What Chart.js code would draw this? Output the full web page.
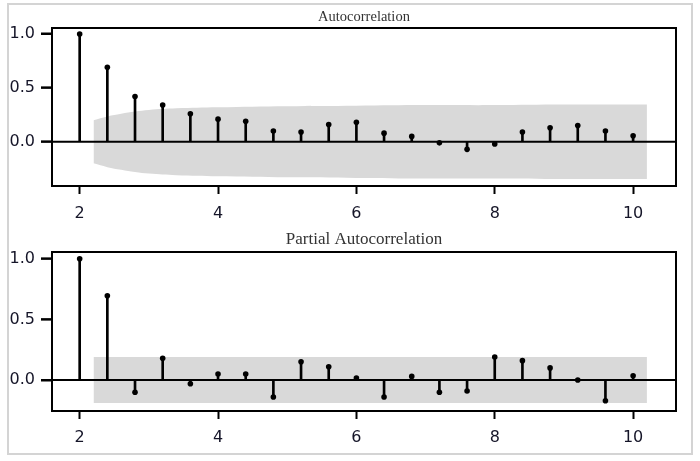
<!DOCTYPE html>
<html>
<head>
<meta charset="utf-8">
<script src="https://cdn.jsdelivr.net/npm/chart.js@4.4.1/dist/chart.umd.min.js"></script>
<style>
	body { margin: 0; background: #fff; }
	#wrap { position: relative; width: 700px; height: 461px; }
	#frame { position: absolute; left: 7px; top: 3px; width: 682px; height: 448px; border: 2px solid #d4d4d4; }
	#acf { position: absolute; left: 0; top: 0; }
	#pacf { position: absolute; left: 0; top: 225px; }
</style>
</head>
<body>
<div id="wrap">
	<div id="frame"></div>
	<canvas id="acf" width="700" height="225"></canvas>
	<canvas id="pacf" width="700" height="236"></canvas>
</div>
<script>
// lags on the x axis
var lags = [2, 2.4, 2.8, 3.2, 3.6, 4, 4.4, 4.8, 5.2, 5.6, 6, 6.4, 6.8, 7.2, 7.6, 8, 8.4, 8.8, 9.2, 9.6, 10];

// autocorrelation values
var acf_values = [1.0, 0.69, 0.42, 0.34, 0.26, 0.21, 0.19, 0.10, 0.09, 0.16, 0.18, 0.08, 0.05, -0.01, -0.07, -0.02, 0.09, 0.13, 0.15, 0.10, 0.055];

// partial autocorrelation values
var pacf_values = [1.0, 0.695, -0.10, 0.18, -0.03, 0.05, 0.05, -0.14, 0.15, 0.11, 0.016, -0.14, 0.03, -0.10, -0.09, 0.19, 0.16, 0.10, 0.0, -0.17, 0.036];

// confidence bands
var acf_band_x = [2.2, 2.4, 2.6, 2.8, 3.0, 3.4, 4.0, 5.0, 6.0, 7.0, 8.0, 9.0, 10.2];
var acf_band_hi = [0.2, 0.235, 0.26, 0.28, 0.295, 0.31, 0.32, 0.33, 0.335, 0.34, 0.34, 0.345, 0.345];
var pacf_band_x = [2.2, 10.2];
var pacf_band_hi = [0.19, 0.19];

var x_ticks = [2, 4, 6, 8, 10];
var y_ticks = [0, 0.5, 1.0];

// plugin drawing the box, the zero line and the y tick marks
var frame_plugin = {
	id: 'frame',
	afterDraw: function(chart) {
		var ctx = chart.ctx;
		var a = chart.chartArea;
		var ys = chart.scales.y;
		var y0 = ys.getPixelForValue(0);
		ctx.save();
		ctx.strokeStyle = '#000';
		ctx.lineWidth = 2;
		ctx.beginPath();
		ctx.moveTo(a.left, y0);
		ctx.lineTo(a.right, y0);
		ys.ticks.forEach(function(t) {
			var py = ys.getPixelForValue(t.value);
			ctx.moveTo(a.left - 11, py);
			ctx.lineTo(a.left, py);
		});
		ctx.stroke();
		ctx.strokeRect(a.left, a.top, a.right - a.left, a.bottom - a.top);
		ctx.restore();
	}
};

var init_chart = function(ctx, options) {
	var stems = [], band_hi = [], band_lo = [];
	for (var i=0; i<lags.length; i++) {
		stems.push({x: lags[i], y: options.values[i]});
	}
	for (var j=0; j<options.band_x.length; j++) {
		band_hi.push({x: options.band_x[j], y: options.band_hi[j]});
		band_lo.push({x: options.band_x[j], y: -options.band_hi[j]});
	}

	return new Chart(ctx, {
		type: 'bar',
		data: {
			datasets: [
				{
					type: 'scatter',
					data: stems,
					pointRadius: 2.8,
					pointBackgroundColor: '#000',
					pointBorderWidth: 0,
					order: 1
				},
				{
					type: 'bar',
					data: stems,
					backgroundColor: '#000',
					barThickness: 2,
					order: 2
				},
				{
					type: 'line',
					data: band_hi,
					borderWidth: 0,
					pointRadius: 0,
					tension: 0.4,
					backgroundColor: '#d9d9d9',
					fill: '+1',
					order: 3
				},
				{
					type: 'line',
					data: band_lo,
					borderWidth: 0,
					pointRadius: 0,
					tension: 0.4,
					backgroundColor: '#d9d9d9',
					fill: false,
					order: 3
				}
			]
		},
		options: {
			animation: false,
			responsive: false,
			layout: { padding: { left: 0, right: 24, top: 0, bottom: 0 } },
			plugins: {
				legend: { display: false },
				tooltip: { enabled: false },
				title: {
					display: true,
					fullSize: false,
					text: options.title,
					color: '#333',
					font: { family: 'Liberation Serif', size: options.title_size, weight: 'normal' },
					padding: options.title_padding
				}
			},
			scales: {
				x: {
					type: 'linear',
					min: 1.6,
					max: 10.62,
					offset: false,
					afterBuildTicks: function(scale) {
						scale.ticks = x_ticks.map(function(v) { return {value: v}; });
					},
					afterFit: function(scale) { scale.height = options.x_height; },
					border: { display: true, color: '#000', width: 2 },
					grid: { offset: false, drawOnChartArea: false, tickLength: 8, tickWidth: 2, tickColor: '#000' },
					ticks: { color: '#151528', padding: options.x_pad, font: { family: 'DejaVu Sans', size: 16 } }
				},
				y: {
					min: options.y_min,
					max: 1.055,
					afterBuildTicks: function(scale) {
						scale.ticks = y_ticks.map(function(v) { return {value: v}; });
					},
					afterFit: function(scale) { scale.width = 52; },
					border: { display: true, color: '#000', width: 2 },
					grid: { offset: false, drawOnChartArea: false, tickLength: 11, tickWidth: 2, tickColor: '#000' },
					ticks: {
						color: '#151528',
						padding: 6,
						font: { family: 'DejaVu Sans', size: 16 },
						callback: function(v) { return v.toFixed(1); }
					}
				}
			}
		},
		plugins: [frame_plugin]
	});
};

init_chart(document.getElementById('acf'), {
	values: acf_values,
	band_x: acf_band_x,
	band_hi: acf_band_hi,
	title: 'Autocorrelation',
	title_size: 14.5,
	title_padding: { top: 8.3, bottom: 2.3 },
	x_height: 39,
	x_pad: 10,
	y_min: -0.41
});

init_chart(document.getElementById('pacf'), {
	values: pacf_values,
	band_x: pacf_band_x,
	band_hi: pacf_band_hi,
	title: 'Partial Autocorrelation',
	title_size: 17,
	title_padding: { top: 4.8, bottom: 1.8 },
	x_height: 50,
	x_pad: 9,
	y_min: -0.255
});
</script>
</body>
</html>
